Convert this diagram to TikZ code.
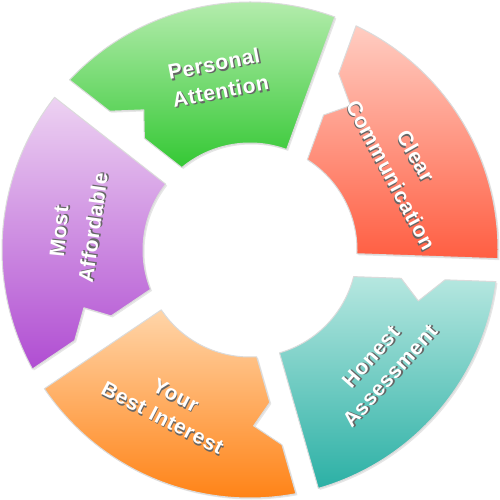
\documentclass[tikz,border=0pt]{standalone}
\usepackage{fontspec}
\setsansfont{Liberation Sans}[LetterSpace=3]
\usetikzlibrary{shadows}

\definecolor{greenA}{HTML}{C2F0BA}
\definecolor{greenB}{HTML}{34C834}
\definecolor{redA}{HTML}{FFCDC2}
\definecolor{redB}{HTML}{FF5E42}
\definecolor{tealA}{HTML}{B6E7E0}
\definecolor{tealB}{HTML}{2BB0A5}
\definecolor{orangeA}{HTML}{FFD5A9}
\definecolor{orangeB}{HTML}{FF7D0C}
\definecolor{purpleA}{HTML}{EDD2F2}
\definecolor{purpleB}{HTML}{B04DD2}

\newcommand{\shadowed}[1]{\rlap{\kern1.3pt\raisebox{-1.5pt}{\textcolor{black!60}{#1}}}#1}

\begin{document}
\begin{tikzpicture}[
    x=1pt, y=1pt,
    slice/.style={draw=black!14, line width=1pt, line join=round,
      drop shadow={shadow xshift=1.5pt, shadow yshift=-1.5pt, opacity=.2}},
    slicetext/.style={text=white, font=\sffamily\bfseries\fontsize{21}{24}\selectfont, inner sep=0pt}
  ]
    \useasboundingbox (-250,-250) rectangle (250,250);

    % five ring slices, notch on the counterclockwise end
    \foreach \c/\hi/\lo in {142/greenA/greenB, 70/redA/redB, -2/tealA/tealB, -74/orangeA/orangeB, -146/purpleA/purpleB}
      \path[slice, top color=\hi, bottom color=\lo]
        ({\c-72}:107) -- ({\c-72}:248) arc[start angle=\c-72, end angle=\c-5.32, radius=248]
        -- ({\c-atan(23/196)}:{veclen(196,23)}) -- ({\c-atan(45/170)}:{veclen(170,45)})
        -- ({\c-atan(23/152)}:{veclen(152,23)}) -- ({\c-12.41}:107)
        arc[start angle=\c-12.41, end angle=\c-72, radius=107] -- cycle;

    \node[slicetext, rotate=11] (personal) at (101:189) {\shadowed{Personal}};
    \node[slicetext, rotate=10.5] (attention) at (100.5:161) {\shadowed{Attention}};
    \node[slicetext, rotate=-60.5] (clear) at (29.5:190) {\shadowed{Clear}};
    \node[slicetext, rotate=-62] (comm) at (28:159) {\shadowed{Communication}};
    \node[slicetext, rotate=48.5] (honest) at (-41.5:162) {\shadowed{Honest}};
    \node[slicetext, rotate=48] (assess) at (-42:189) {\shadowed{Assessment}};
    \node[slicetext, rotate=-27] (your) at (-117:164) {\shadowed{Your}};
    \node[slicetext, rotate=-27.5] (best) at (-117.5:190) {\shadowed{Best Interest}};
    \node[slicetext, rotate=84.5] (most) at (174.5:191) {\shadowed{Most}};
    \node[slicetext, rotate=82] (afford) at (172:158) {\shadowed{Affordable}};
  \end{tikzpicture}
\end{document}
